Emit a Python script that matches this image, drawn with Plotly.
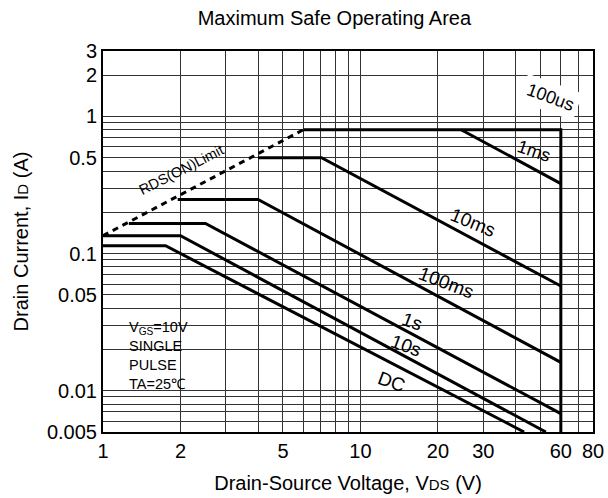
import plotly.graph_objects as go
import math

# ---- data ----
rds_x = [1, 6]
rds_y = [0.135, 0.8]

us100_x = [6, 60, 60]
us100_y = [0.8, 0.8, 0.005]

ms1_x = [24.6, 60]
ms1_y = [0.8, 0.324]

ms10_x = [4.0, 7.06, 60]
ms10_y = [0.5, 0.5, 0.058]

ms100_x = [1.95, 4.0, 60]
ms100_y = [0.248, 0.248, 0.0161]

s1_x = [1.26, 2.5, 60]
s1_y = [0.166, 0.166, 0.0068]

s10_x = [1, 2.0, 52.5]
s10_y = [0.135, 0.135, 0.005]

dc_x = [1, 1.75, 43.2]
dc_y = [0.114, 0.114, 0.005]

x_grid = [1, 2, 3, 4, 5, 6, 7, 8, 9, 10, 20, 30, 40, 50, 60, 70, 80]
x_labels = ["1", "2", "", "", "5", "", "", "", "", "10", "20", "30", "", "", "60", "", "80"]
y_grid = [0.005, 0.006, 0.007, 0.008, 0.009, 0.01, 0.02, 0.03, 0.04, 0.05, 0.06, 0.07, 0.08, 0.09,
          0.1, 0.2, 0.3, 0.4, 0.5, 0.6, 0.7, 0.8, 0.9, 1, 2, 3]
y_labels = ["0.005", "", "", "", "", "0.01", "", "", "", "0.05", "", "", "", "",
            "0.1", "", "", "", "0.5", "", "", "", "", "1", "2", "3"]

FONT = "Arial, Liberation Sans, sans-serif"

fig = go.Figure()
line = dict(color="black", width=3)
for xs, ys in [(us100_x, us100_y), (ms1_x, ms1_y), (ms10_x, ms10_y), (ms100_x, ms100_y),
               (s1_x, s1_y), (s10_x, s10_y), (dc_x, dc_y)]:
    fig.add_trace(go.Scatter(x=xs, y=ys, mode="lines", line=line, showlegend=False, hoverinfo="skip"))
fig.add_trace(go.Scatter(x=rds_x, y=rds_y, mode="lines",
                         line=dict(color="black", width=3, dash="6px,5px"),
                         showlegend=False, hoverinfo="skip"))

L, R, T, B = 103, 593, 51, 432
W, H = R - L, B - T
def px(x):
    return (x - L) / W
def py(y):
    return (B - y) / H

# white box behind the condition text
fig.add_shape(type="rect", xref="paper", yref="paper", x0=px(118), x1=px(230), y0=0, y1=py(288),
              fillcolor="white", line=dict(width=0), layer="between")

labels = [
    ("100us", 550, 97, 20, 18, True),
    ("1ms", 534, 151, 19, 18, False),
    ("10ms", 473, 222, 22, 19, False),
    ("100ms", 446, 282, 21, 19, False),
    ("1s", 412, 322, 20, 19, False),
    ("10s", 406, 345, 20, 19, False),
    ("DC", 391, 381, 20, 19, False),
    ("RDS(ON)Limit", 181, 170, -27, 14.5, False),
]
for txt, x, y, ang, fs, bg in labels:
    fig.add_annotation(text=txt, xref="paper", yref="paper", x=px(x), y=py(y),
                       xanchor="center", yanchor="middle",
                       showarrow=False, textangle=ang, font=dict(family=FONT, size=fs, color="black"),
                       bgcolor="white" if bg else "rgba(0,0,0,0)", borderpad=4 if bg else 0)

fig.add_annotation(
    text="V<sub>GS</sub>=10V<br>SINGLE<br>PULSE<br>TA=25℃",
    xref="paper", yref="paper", x=px(127), y=py(355), xanchor="left", yanchor="middle",
    align="left", showarrow=False, font=dict(family=FONT, size=14.5, color="black"))

axis_common = dict(type="log", showline=True, linecolor="black", linewidth=2, mirror=True,
                   showgrid=True, gridcolor="#333333", gridwidth=1, zeroline=False,
                   tickfont=dict(family=FONT, size=20, color="black"), ticks="")
fig.update_xaxes(range=[0, math.log10(80)], tickmode="array", tickvals=x_grid, ticktext=x_labels,
                 title=dict(text="Drain-Source Voltage, V<span style='font-size:15px'>DS</span> (V)",
                            font=dict(family=FONT, size=20, color="black"), standoff=15),
                 **axis_common)
fig.update_yaxes(range=[math.log10(0.005), math.log10(3)], tickmode="array", tickvals=y_grid, ticktext=y_labels,
                 title=dict(text="Drain Current, I<span style='font-size:15px'>D</span> (A)",
                            font=dict(family=FONT, size=20, color="black"), standoff=13),
                 **axis_common)

fig.update_layout(
    width=608, height=498,
    margin=dict(l=L, r=608 - R, t=T, b=498 - B, autoexpand=False),
    paper_bgcolor="white", plot_bgcolor="white",
    title=dict(text="Maximum Safe Operating Area", x=0.55, xanchor="center", y=0.964, yanchor="middle",
               font=dict(family=FONT, size=20, color="black")),
)

fig.write_html("out.html", config={"displayModeBar": False, "staticPlot": True})

# remove the default page margin so the figure sits at the window origin
with open("out.html", "r", encoding="utf-8") as f:
    html = f.read()
html = html.replace("<head>", "<head><style>html,body{margin:0;padding:0;overflow:hidden;}</style>", 1)
with open("out.html", "w", encoding="utf-8") as f:
    f.write(html)
